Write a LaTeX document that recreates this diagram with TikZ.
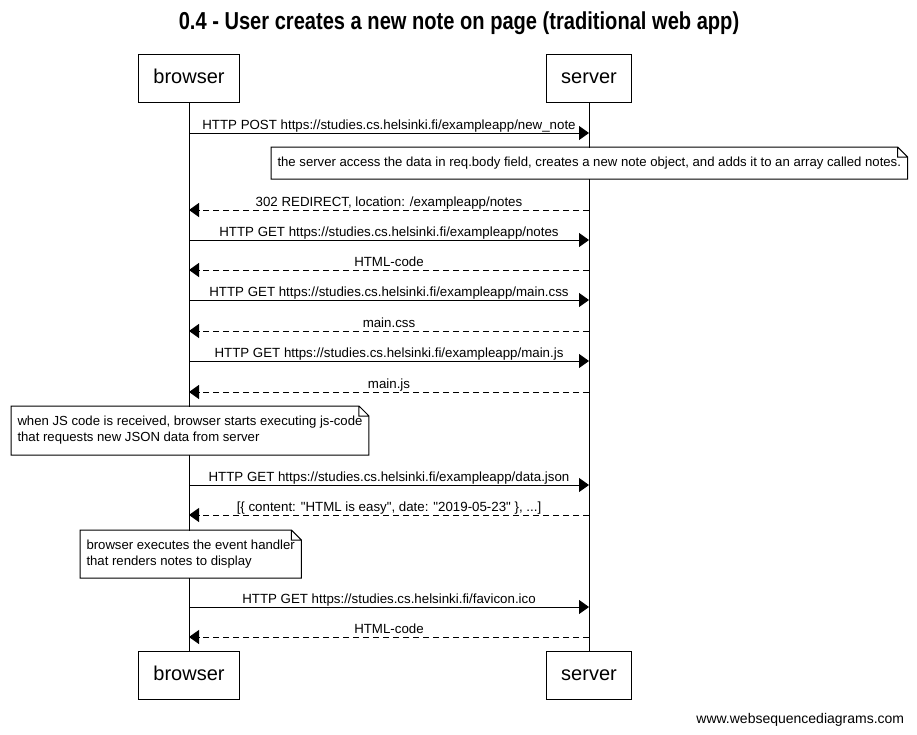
\documentclass[tikz,border=0pt]{standalone}
\usepackage{fontspec}
\setmainfont{Liberation Sans}[Ligatures=TeXOff]
\usetikzlibrary{arrows.meta}

\tikzset{
  actor/.style={draw, fill=white, minimum height=48pt, inner xsep=15pt, text height=14.5pt, text depth=4pt, font=\fontsize{20}{24}\selectfont},
  msg/.style={-{Triangle[length=10pt,width=14pt]}},
  reply/.style={msg, dash pattern=on 6pt off 4pt},
  lbl/.style={anchor=base, yshift=4pt, inner sep=0pt, font=\fontsize{13.3}{16}\selectfont},
  note/.style={fill=white, anchor=north west, align=left, inner xsep=6pt, inner ysep=0pt, font=\fontsize{13.15}{16}\selectfont},
}

\begin{document}
\begin{tikzpicture}[x=1pt, y=-1pt, line width=1pt]
\useasboundingbox (0,0) rectangle (917,734);

\node (title) at (459,29)[anchor=base]{\scalebox{0.82}[1]{\fontsize{24.5}{28}\selectfont\bfseries 0.4 - User creates a new note on page (traditional web app)}};

\node[actor] (b) at (189,78) {browser};
\node[actor] (s) at (589,78) {server};
\node[actor] (b2) at (189,675.5) {browser};
\node[actor] (s2) at (589,675.5) {server};

\draw (b) -- (b2);
\draw (s) -- (s2);

\foreach \y/\txt in {133/{HTTP POST https://studies.cs.helsinki.fi/exampleapp/new\_note},
    240/{HTTP GET https://studies.cs.helsinki.fi/exampleapp/notes},
    300/{HTTP GET https://studies.cs.helsinki.fi/exampleapp/main.css},
    361/{HTTP GET https://studies.cs.helsinki.fi/exampleapp/main.js},
    485/{HTTP GET https://studies.cs.helsinki.fi/exampleapp/data.json},
    607/{HTTP GET https://studies.cs.helsinki.fi/favicon.ico}}
  \draw[msg] (b |- 0,\y) -- node[lbl]{\txt} (s |- 0,\y);

\foreach \y/\txt in {210/{302 REDIRECT, location: /exampleapp/notes},
    270/{HTML-code},
    331/{main.css},
    392/{main.js},
    515/{[\{ content: "HTML is easy", date: "2019-05-23" \}, ...]},
    637/{HTML-code}}
  \draw[reply] (s |- 0,\y) -- node[lbl]{\txt} (b |- 0,\y);

\node[note, minimum height=31pt] (n1) at (271,147) {the server access the data in req.body field, creates a new note object, and adds it to an array called notes.};
\node[note, minimum height=48pt] (n2) at (11,406) {when JS code is received, browser starts executing js-code\\that requests new JSON data from server};
\node[note, minimum height=47pt] (n3) at (80,530) {browser executes the event handler\\that renders notes to display};

\foreach \n in {n1,n2,n3}
  \draw (\n.north west) -- ([xshift=-10pt]\n.north east) -- ([yshift=-10pt]\n.north east)
    -- (\n.south east) -- (\n.south west) -- cycle
    ([xshift=-10pt]\n.north east) |- ([yshift=-10pt]\n.north east);

\node (footer) at (908,723)[anchor=base east]{\fontsize{14}{16}\selectfont www.websequencediagrams.com};

\end{tikzpicture}
\end{document}
